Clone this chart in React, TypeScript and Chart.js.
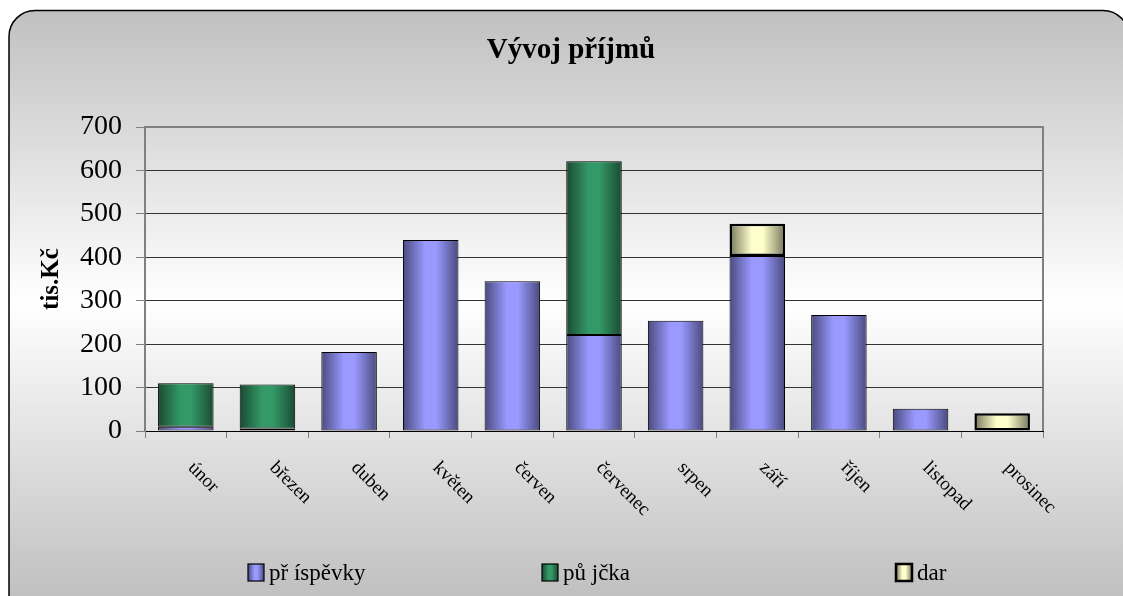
import React, { useEffect, useRef } from "react";
import { Chart, registerables } from "chart.js";

Chart.register(...registerables);

const months = ["únor", "březen", "duben", "květen", "červen", "červenec", "srpen", "září", "říjen", "listopad", "prosinec"];
const prispevky = [10, 6, 182, 440, 345, 221, 254, 403, 267, 51, null];
const pujcka = [100, 101, null, null, null, 400, null, null, null, null, null];
const dar = [null, null, null, null, null, null, null, 74, null, null, 41];
const seriesNames = ["př íspěvky", "pů jčka", "dar"];
const chartTitle = "Vývoj příjmů";
const yTitle = "tis.Kč";
const yTicksMax = 700;
const yTicksStep = 100;

const FONT = "'Liberation Serif', 'Times New Roman', serif";
const BAR_PCT = 0.68;

const palette = [
  { light: "#9999FF", dark: "#4A4A7E" },
  { light: "#339966", dark: "#1A4A32" },
  { light: "#FFFFCC", dark: "#76765C" },
];

function grad(ctx: CanvasRenderingContext2D, x0: number, x1: number, p: { light: string; dark: string }) {
  const g = ctx.createLinearGradient(x0, 0, x1, 0);
  g.addColorStop(0, p.dark);
  g.addColorStop(0.4, p.light);
  g.addColorStop(0.6, p.light);
  g.addColorStop(1, p.dark);
  return g;
}

function makeFill(p: { light: string; dark: string }) {
  return (c: any) => {
    const chart = c.chart;
    const xs = chart.scales && chart.scales.x;
    if (!xs || !chart.chartArea || c.dataIndex == null) return p.light;
    const cx = xs.getPixelForValue(c.dataIndex);
    const w = (xs.width / months.length) * BAR_PCT;
    return grad(chart.ctx, cx - w / 2, cx + w / 2, p);
  };
}

const framePlugin = {
  id: "frame",
  beforeDraw(chart: any) {
    const ctx = chart.ctx as CanvasRenderingContext2D;
    const x0 = 9, y0 = 10.5, x1 = 1129, y1 = 640, r = 26;
    ctx.save();
    ctx.beginPath();
    ctx.moveTo(x0 + r, y0);
    ctx.lineTo(x1 - r, y0);
    ctx.arcTo(x1, y0, x1, y0 + r, r);
    ctx.lineTo(x1, y1 - r);
    ctx.arcTo(x1, y1, x1 - r, y1, r);
    ctx.lineTo(x0 + r, y1);
    ctx.arcTo(x0, y1, x0, y1 - r, r);
    ctx.lineTo(x0, y0 + r);
    ctx.arcTo(x0, y0, x0 + r, y0, r);
    ctx.closePath();
    const g = ctx.createLinearGradient(0, 10, 0, 596);
    g.addColorStop(0, "#c0c0c0");
    g.addColorStop(0.5, "#ffffff");
    g.addColorStop(1, "#c0c0c0");
    ctx.fillStyle = g;
    ctx.fill();
    ctx.lineWidth = 1.5;
    ctx.strokeStyle = "#000";
    ctx.stroke();
    // chart title, centred on the frame
    ctx.font = `bold 29px ${FONT}`;
    ctx.fillStyle = "#000";
    ctx.textAlign = "center";
    ctx.textBaseline = "alphabetic";
    ctx.fillText(chartTitle, (x0 + chart.width) / 2 + 5, 58);
    ctx.restore();
  },
  beforeDatasetsDraw(chart: any) {
    const ctx = chart.ctx as CanvasRenderingContext2D;
    const a = chart.chartArea;
    ctx.save();
    ctx.strokeStyle = "#808080";
    ctx.lineWidth = 2;
    ctx.beginPath();
    ctx.moveTo(a.left, a.top);
    ctx.lineTo(a.right, a.top);
    ctx.lineTo(a.right, a.bottom);
    ctx.stroke();
    ctx.restore();
  },
  afterDraw(chart: any) {
    const ctx = chart.ctx as CanvasRenderingContext2D;
    const xs = chart.scales.x;
    const a = chart.chartArea;
    // rotated category labels
    ctx.save();
    ctx.font = `19px ${FONT}`;
    ctx.fillStyle = "#000";
    ctx.textAlign = "left";
    ctx.textBaseline = "middle";
    months.forEach((m, i) => {
      const x = xs.getPixelForTick(i);
      ctx.save();
      ctx.translate(x + 5, a.bottom + 34);
      ctx.rotate(Math.PI / 4);
      ctx.fillText(m, 0, 0);
      ctx.restore();
    });
    ctx.restore();
    // legend
    const slots = [0.2208, 0.4826, 0.798];
    ctx.save();
    ctx.font = `23px ${FONT}`;
    ctx.textBaseline = "alphabetic";
    ctx.textAlign = "left";
    seriesNames.forEach((name, i) => {
      const bx = Math.round(chart.width * slots[i]);
      const by = 564;
      const bw = 16, bh = 17;
      ctx.fillStyle = grad(ctx, bx, bx + bw, palette[i]);
      ctx.fillRect(bx, by, bw, bh);
      ctx.lineWidth = i === 2 ? 2.5 : 1.2;
      ctx.strokeStyle = "#000";
      ctx.strokeRect(bx, by, bw, bh);
      ctx.fillStyle = "#000";
      ctx.fillText(name, bx + bw + 5, 580);
    });
    ctx.restore();
  },
};

export default function App() {
  const ref = useRef<HTMLCanvasElement | null>(null);
  useEffect(() => {
    document.body.style.margin = "0";
    const canvas = ref.current;
    if (!canvas) return;
    const chart = new Chart(canvas, {
      type: "bar",
      data: {
        labels: months,
        datasets: [
          { label: seriesNames[0], data: prispevky, backgroundColor: makeFill(palette[0]), borderColor: "#000", borderWidth: 1, borderSkipped: false },
          { label: seriesNames[1], data: pujcka, backgroundColor: makeFill(palette[1]), borderColor: "#000", borderWidth: 1, borderSkipped: false },
          { label: seriesNames[2], data: dar, backgroundColor: makeFill(palette[2]), borderColor: "#000", borderWidth: 2.5, borderSkipped: false },
        ],
      },
      options: {
        animation: false,
        responsive: true,
        maintainAspectRatio: false,
        layout: { padding: { top: 127, left: 10, right: 80, bottom: 158 } },
        datasets: { bar: { barPercentage: BAR_PCT, categoryPercentage: 1 } },
        plugins: {
          legend: { display: false },
          tooltip: { enabled: false },
          title: { display: false },
        },
        scales: {
          x: {
            stacked: true,
            offset: true,
            ticks: { display: false },
            grid: { display: true, drawOnChartArea: false, drawTicks: true, tickLength: 7, color: "#808080", offset: true },
            border: { display: true, color: "#000", width: 1 },
          },
          y: {
            stacked: true,
            min: 0,
            max: yTicksMax,
            afterFit: (s: any) => { s.width = 135; },
            ticks: { stepSize: yTicksStep, color: "#000", font: { family: FONT, size: 28 }, padding: 14 },
            grid: { color: "#333", lineWidth: 1, tickLength: 9, tickColor: "#808080" },
            border: { display: true, color: "#808080", width: 2 },
            title: { display: true, text: yTitle, color: "#000", font: { family: FONT, size: 25, weight: "bold" }, padding: { top: 27, bottom: 0 } },
          },
        },
      },
      plugins: [framePlugin],
    } as any);
    return () => chart.destroy();
  }, []);
  return (
    <div style={{ width: 1123, height: 596, position: "relative" }}>
      <canvas ref={ref} />
    </div>
  );
}
